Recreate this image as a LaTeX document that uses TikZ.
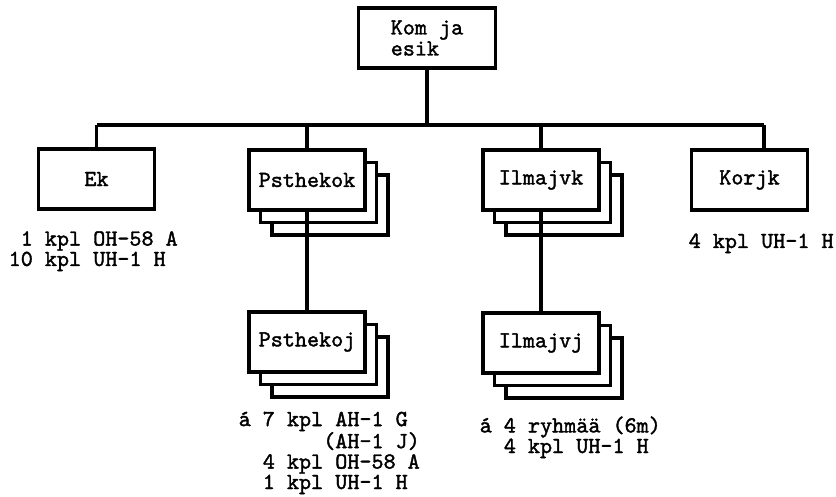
\documentclass[tikz,border=0pt]{standalone}
\usepackage{fontspec}
\newfontfamily\typer{lmmono10-regular.otf}[FakeBold=1.6]
\usetikzlibrary{shadows}

\begin{document}
\begin{tikzpicture}[x=1pt, y=-1pt, line width=3.4pt,
    orgbox/.style={draw, fill=white, minimum width=116pt, minimum height=60pt,
                   inner sep=0pt, align=left, font=\fontsize{23}{21}\selectfont\typer},
    stackbox/.style={orgbox,
                     copy shadow={shadow xshift=23pt, shadow yshift=-25pt, line width=3.4pt},
                     copy shadow={shadow xshift=11.5pt, shadow yshift=-12.5pt, line width=3.4pt}},
    kpl/.style={anchor=base west, align=left, inner sep=0pt,
                font=\fontsize{23}{19}\selectfont\typer},
  ]
    \useasboundingbox (0,0) rectangle (836,497);

    % level 0
    \node[orgbox, minimum width=137pt] (kom) at (427, 38) {Kom ja\\esik};

    % level 1
    \node[orgbox]   (ek)       at ( 96.5, 179) {Ek};
    \node[stackbox] (psthekok) at (307,   180) {Psthekok};
    \node[stackbox] (ilmajvk)  at (541,   180) {Ilmajvk};
    \node[orgbox]   (korjk)    at (749.5, 180) {Korjk};

    % level 2
    \node[stackbox] (psthekoj) at (307,   342) {Psthekoj};
    \node[stackbox] (ilmajvj)  at (541,   343) {Ilmajvj};

    % connectors
    \coordinate (bar) at (427, 125);
    \coordinate (kj)  at (764, 125);
    \draw (kom.south) -- (kom.south |- bar);
    \draw (ek.north |- bar) -- (kj);
    \draw (ek.north |- bar) -- (ek.north);
    \draw (psthekok.north |- bar) -- (psthekok.north);
    \draw (ilmajvk.north |- bar) -- (ilmajvk.north);
    \draw (kj) -- (kj |- korjk.north);
    \draw (psthekok.south) -- ++(0,25) -- (psthekoj.north);
    \draw (ilmajvk.south) -- (ilmajvj.north);

    % helicopters (base = last line)
    \node[kpl] (ekkpl)    at (7, 266)   {\phantom{1}1 kpl OH-58 A\\10 kpl UH-1 H};
    \node[kpl] (korjkkpl) at (687, 248) {4 kpl UH-1 H};
    \node[kpl] (pskpl)    at (237, 489) {á 7 kpl AH-1 G\\\phantom{á 7 kpl}(AH-1 J)\\
                                         \phantom{á}~4 kpl OH-58 A\\\phantom{á}~1 kpl UH-1 H};
    \node[kpl] (ilkpl)    at (478, 453) {á 4 ryhmää (6m)\\\phantom{á}~4 kpl UH-1 H};
  \end{tikzpicture}
\end{document}
